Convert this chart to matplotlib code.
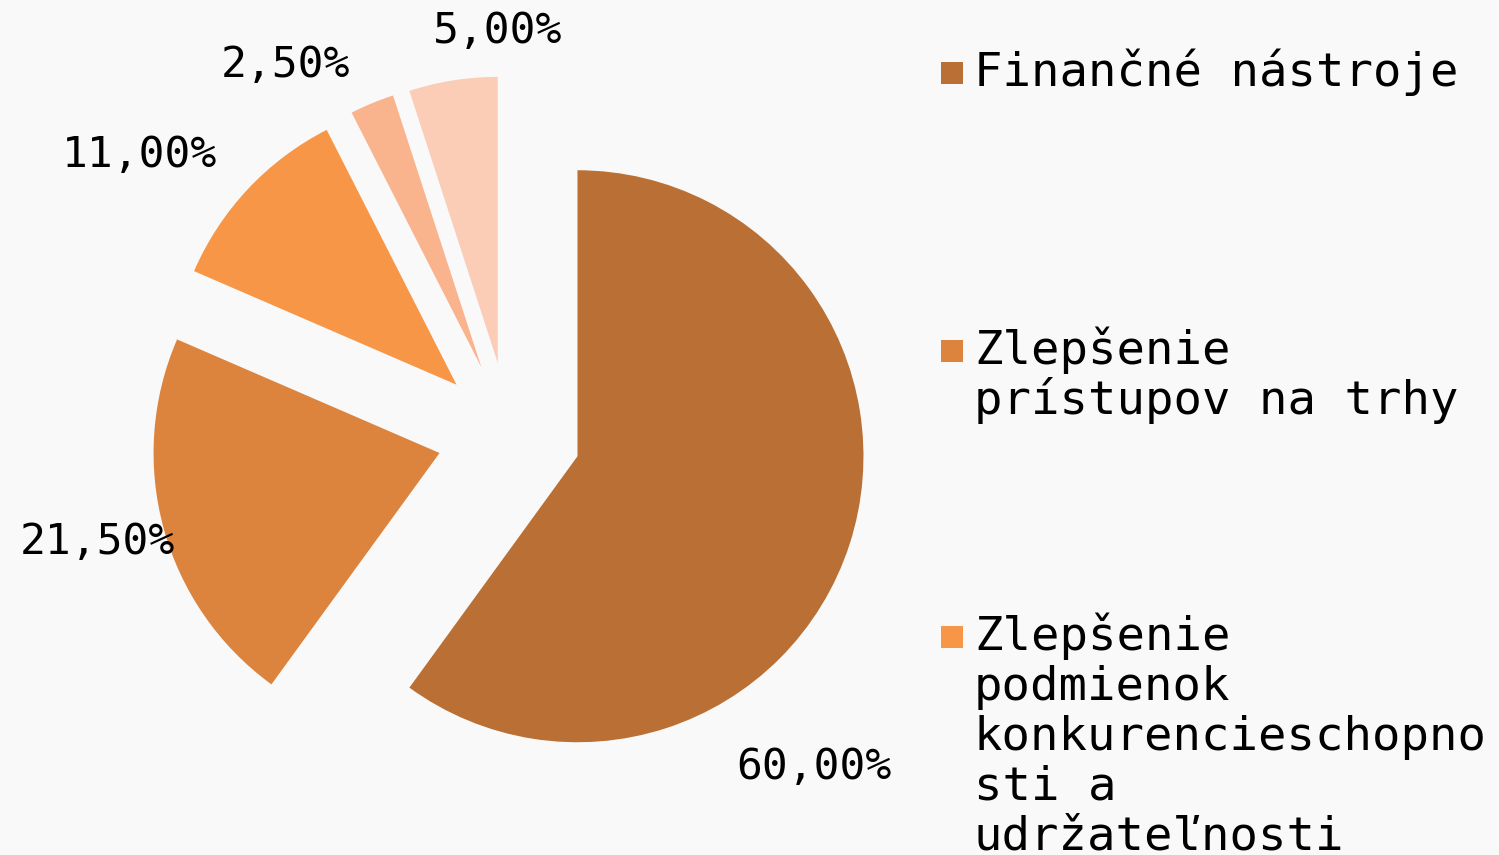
import matplotlib.pyplot as plt
from matplotlib.patches import Rectangle

# data
values = [60.0, 21.5, 11.0, 2.5, 5.0]
pct_labels = ["60,00%", "21,50%", "11,00%", "2,50%", "5,00%"]
legend_labels = [
    ["Finančné nástroje"],
    ["Zlepšenie", "prístupov na trhy"],
    ["Zlepšenie", "podmienok", "konkurencieschopno", "sti a", "udržateľnosti"],
]
colors = ["#BA7034", "#DC843E", "#F79646", "#F9B48E", "#FBCDB7"]

W, H = 1499, 855
bg = "#F9F9F9"

fig = plt.figure(figsize=(W / 100, H / 100), dpi=100, facecolor=bg)
ax = fig.add_axes([0, 0, 1, 1])
ax.set_facecolor(bg)

# pie in pixel coordinates (y up); explode is an absolute offset here
wedges, _ = ax.pie(values, colors=colors, startangle=90, counterclock=False,
                   radius=286, center=(509, H - 434), explode=[72] * len(values),
                   wedgeprops=dict(linewidth=0))

ax.set_xlim(0, W)
ax.set_ylim(0, H)
ax.set_aspect("equal")
ax.set_position([0, 0, 1, 1])
ax.axis("off")

# percentage labels (positions in pixels, image coords)
label_pos = [(814, 767), (97, 542), (140, 155), (285, 65), (498, 31)]
for txt, (x, y) in zip(pct_labels, label_pos):
    ax.text(x, H - y, txt, ha="center", va="center", fontsize=31,
            family="DejaVu Sans Mono", color="black")

# legend drawn by hand (only the visible entries)
first_baselines = [86, 364, 650]
line_step = 50
for i, lines in enumerate(legend_labels):
    b = first_baselines[i]
    ax.add_patch(Rectangle((941, H - (b - 2)), 22, 22, facecolor=colors[i],
                           edgecolor="none"))
    for j, line in enumerate(lines):
        ax.text(974, H - (b + j * line_step), line, ha="left", va="baseline",
                fontsize=34, family="DejaVu Sans Mono", color="black")

plt.savefig("out.png", dpi=100, facecolor=bg)
